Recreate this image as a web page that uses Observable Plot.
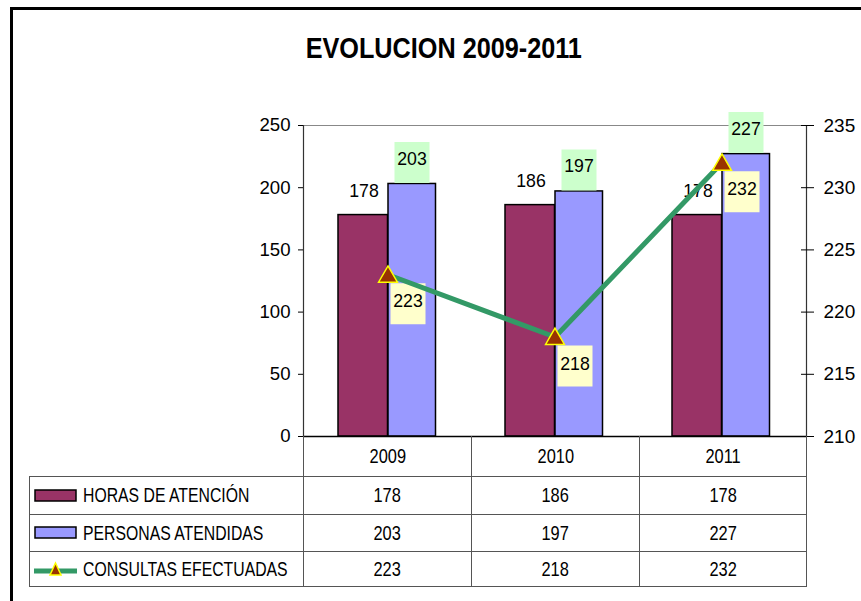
<!DOCTYPE html>
<html><head><meta charset="utf-8">
<script src="https://cdn.jsdelivr.net/npm/d3@7"></script>
<script src="https://cdn.jsdelivr.net/npm/@observablehq/plot@0.6"></script>
<style>
body{margin:0;background:#fff;font-family:"Liberation Sans",Arial,sans-serif;color:#000;}
#wrap{position:relative;width:861px;height:601px;overflow:hidden;background:#fff;}
#border{position:absolute;left:10px;top:7px;width:1000px;height:1000px;border:3px solid #000;box-sizing:border-box;}
#title{position:absolute;top:33.5px;left:0;width:887px;text-align:center;font-weight:bold;font-size:29px;line-height:29px;}
#title span{display:inline-block;transform:scaleX(0.87);transform-origin:center;}
#chart{position:absolute;left:0;top:100px;}
#tbl{position:absolute;left:29px;top:436px;border-collapse:collapse;table-layout:fixed;width:777px;font-size:20.5px;line-height:22px;}
#tbl td{padding:0;text-align:center;vertical-align:middle;border:1px solid #555;white-space:nowrap;overflow:visible;}
#tbl td span.n{display:inline-block;transform:scaleX(0.8);transform-origin:center;}
#tbl td.lab{text-align:left;}
#tbl .lab div{display:flex;align-items:center;padding-left:4px;}
#tbl .lab svg{margin-right:6px;flex:none;}
#tbl .lab span{display:inline-block;transform:scaleX(0.77);transform-origin:left center;}
</style></head>
<body>
<div id="wrap">
  <div id="border"></div>
  <div id="title"><span>EVOLUCION 2009-2011</span></div>
  <div id="chart"></div>
  <table id="tbl"></table>
</div>
<script>
const years = ["2009", "2010", "2011"];
const horas = [178, 186, 178];
const personas = [203, 197, 227];
const consultas = [223, 218, 232];
const seriesNames = ["HORAS DE ATENCIÓN", "PERSONAS ATENDIDAS", "CONSULTAS EFECTUADAS"];
const leftTicks = [0, 50, 100, 150, 200, 250];
const rightTicks = [210, 215, 220, 225, 230, 235];

const rightMin = 210, rightMax = 235, leftMax = 250;
const toLeft = v => (v - rightMin) * leftMax / (rightMax - rightMin);
const fromLeft = v => Math.round(rightMin + v * (rightMax - rightMin) / leftMax);

const data = years.map((y, i) => ({year: y, horas: horas[i], personas: personas[i], consultas: consultas[i], cl: toLeft(consultas[i])}));

const boxSym = {draw(ctx) { ctx.rect(-17.5, -20.5, 35, 41); }};
const font = '"Liberation Sans", Arial, sans-serif';

const plot = Plot.plot({
  width: 861, height: 351,
  marginLeft: 303, marginRight: 55, marginTop: 25, marginBottom: 15,
  style: {fontFamily: font, fontSize: "18px", color: "#000", background: "transparent", overflow: "visible"},
  x: {type: "band", domain: years, padding: 0, axis: null},
  y: {domain: [0, leftMax], axis: null},
  marks: [
    Plot.frame({anchor: "top", stroke: "#888", strokeWidth: 1.2}),
    Plot.barY(data, {x: "year", y: "horas", fill: "#993366", stroke: "#000", strokeWidth: 1.5, insetLeft: 34, insetRight: 83.5}),
    Plot.barY(data, {x: "year", y: "personas", fill: "#9999FF", stroke: "#000", strokeWidth: 1.5, insetLeft: 84, insetRight: 35.5}),
    Plot.ruleY([0], {stroke: "#000", strokeWidth: 1.5}),
    Plot.frame({anchor: "left", stroke: "#333", strokeWidth: 1.2}),
    Plot.frame({anchor: "right", stroke: "#333", strokeWidth: 1.2}),
    Plot.axisY(leftTicks, {anchor: "left", tickSize: 5, tickPadding: 8, fontSize: 18.6, ariaLabel: "left-axis"}),
    Plot.axisY(rightTicks.map(toLeft), {anchor: "right", tickSize: 13, dx: -6, tickPadding: 10, tickFormat: fromLeft, fontSize: 19, ariaLabel: "right-axis"}),
    Plot.text(data, {x: "year", y: "horas", text: d => String(d.horas), dx: -24, dy: -24, fontSize: 17.7, ariaLabel: "vlabel"}),
    Plot.dot(data, {x: "year", y: "personas", symbol: boxSym, fill: "#CCFFCC", dx: 24, dy: -21.5}),
    Plot.text(data, {x: "year", y: "personas", text: d => String(d.personas), dx: 24, dy: -25, fontSize: 17.7, ariaLabel: "vlabel"}),
    Plot.dot(data, {x: "year", y: "cl", symbol: boxSym, fill: "#FFFFCC", dx: 20, dy: 29}),
    Plot.text(data, {x: "year", y: "cl", text: d => String(d.consultas), dx: 20, dy: 27, fontSize: 17.7, ariaLabel: "vlabel"}),
    Plot.line(data, {x: "year", y: "cl", stroke: "#339966", strokeWidth: 5}),
    Plot.dot(data, {x: "year", y: "cl", symbol: "triangle", r: 7, fill: "#993300", stroke: "#FFFF00", strokeWidth: 1.5, dy: 2})
  ]
});
document.getElementById("chart").appendChild(plot);

// condense glyphs like the original rendering
function squeeze(sel, k) {
  plot.querySelectorAll(sel).forEach(t => {
    const L = t.getComputedTextLength();
    if (L > 0) { t.setAttribute("textLength", (L * k).toFixed(2)); t.setAttribute("lengthAdjust", "spacingAndGlyphs"); }
  });
}
squeeze('[aria-label="left-axis"] text', 0.87);
squeeze('[aria-label="vlabel"] text', 0.88);

// data table
const swatches = [
  '<svg width="43" height="13"><rect x="1" y="1" width="41" height="11" fill="#993366" stroke="#000" stroke-width="1.5"/></svg>',
  '<svg width="43" height="13"><rect x="1" y="1" width="41" height="11" fill="#9999FF" stroke="#000" stroke-width="1.5"/></svg>',
  '<svg width="43" height="18"><line x1="0" y1="11" x2="43" y2="11" stroke="#339966" stroke-width="5"/><path d="M21.5,3 L27,15 L16,15 Z" fill="#993300" stroke="#FFFF00" stroke-width="1.5"/></svg>'
];
const rowsVals = [horas, personas, consultas];
const rowH = [38, 37.5, 34.5];
let html = '<colgroup><col style="width:274px"><col style="width:168px"><col style="width:168px"><col style="width:167px"></colgroup>';
html += '<tr style="height:40px"><td style="border-top:none;border-left:none;"></td>' +
  years.map(y => '<td style="border-top:none"><span class="n">' + y + '</span></td>').join('') + '</tr>';
rowsVals.forEach((vals, i) => {
  html += '<tr style="height:' + rowH[i] + 'px"><td class="lab"><div>' + swatches[i] + '<span>' + seriesNames[i] + '</span></div></td>' +
    vals.map(v => '<td><span class="n">' + v + '</span></td>').join('') + '</tr>';
});
document.getElementById("tbl").innerHTML = html;
</script>
</body></html>
